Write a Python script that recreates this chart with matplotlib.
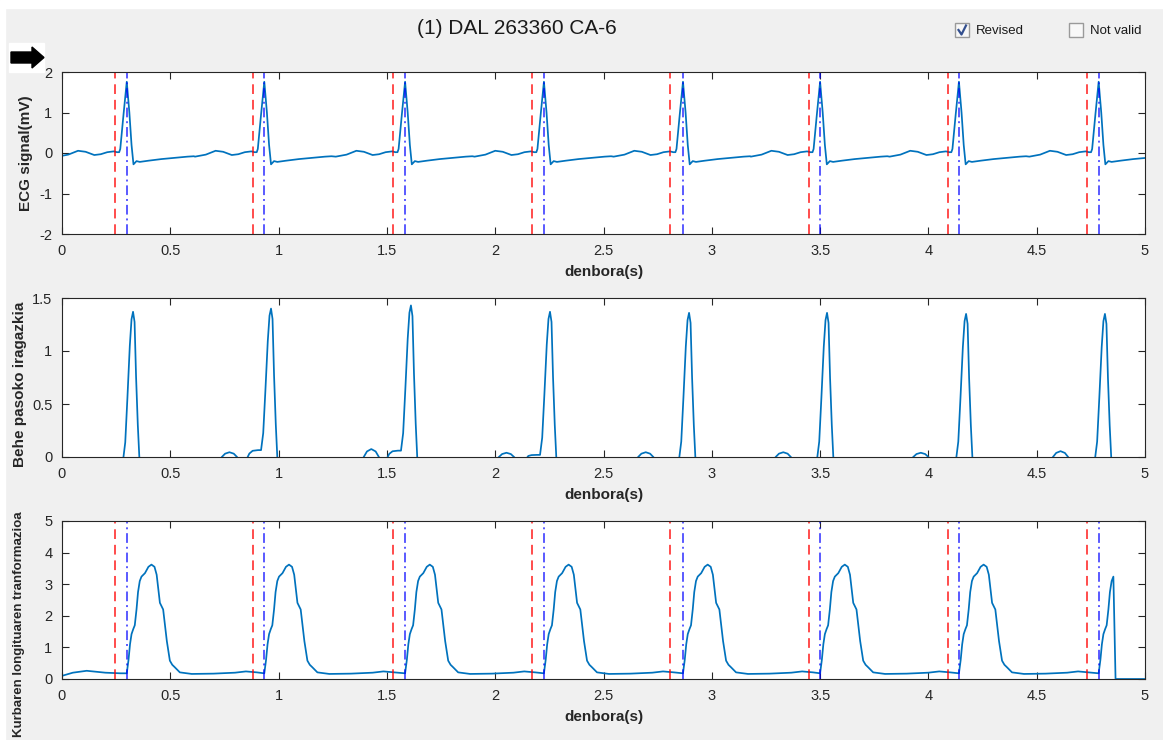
import numpy as np
import matplotlib
matplotlib.use("Agg")
import matplotlib.pyplot as plt
from matplotlib.patches import Rectangle, Polygon
from matplotlib.lines import Line2D
from matplotlib.ticker import FormatStrFormatter

plt.rcParams['font.family'] = ['Liberation Sans', 'DejaVu Sans']

# detekzio puntuak (gorria: hasiera, urdina: R gailurra)
onset_times = [0.245, 0.883, 1.530, 2.170, 2.807, 3.449, 4.089, 4.734]
r_times = [0.299, 0.934, 1.584, 2.225, 2.867, 3.500, 4.141, 4.786]

# EKG taupada baten puntuak, R gailurrarekiko
ecg_offsets = [-0.32, -0.27, -0.225, -0.19, -0.15, -0.12, -0.09, -0.06, -0.045, -0.035, -0.03,
               -0.015, 0.0, 0.012, 0.022, 0.031, 0.045, 0.06, 0.10, 0.16, 0.22, 0.28, 0.31]
ecg_values = [-0.09, -0.04, 0.055, 0.03, -0.05, -0.03, 0.02, 0.04, 0.02, 0.02, 0.10,
              0.95, 1.76, 1.0, 0.2, -0.28, -0.20, -0.22, -0.19, -0.15, -0.12, -0.09, -0.08]

# behe pasoko iragazkiaren gailurrak
lpf_peak_times = [0.328, 0.965, 1.611, 2.253, 2.895, 3.532, 4.174, 4.815]
lpf_peak_heights = [1.37, 1.40, 1.43, 1.37, 1.36, 1.36, 1.35, 1.35]
lpf_shoulders = [-0.03, 0.065, 0.06, 0.02, -0.02, -0.02, -0.02, -0.02]
lpf_lobe_offsets = [-0.046, -0.036, -0.026, -0.015, -0.007, 0.0, 0.007, 0.014, 0.022, 0.029, 0.036]
lpf_lobe_fracs = [0.0, 0.12, 0.42, 0.77, 0.95, 1.0, 0.93, 0.55, 0.22, 0.0, -0.08]
lpf_bump_times = [0.773, 1.428, 2.052, 2.695, 3.33, 3.965, 4.61]
lpf_bump_heights = [0.045, 0.075, 0.04, 0.045, 0.045, 0.04, 0.055]
bump_offsets = [-0.045, -0.035, -0.02, 0.0, 0.02, 0.035, 0.045]
bump_fracs = [-0.6, 0.0, 0.7, 1.0, 0.7, 0.0, -0.6]

# kurbaren luzeraren transformazioa, taupada bakoitzeko
clt_offsets = [0.0, 0.008, 0.015, 0.022, 0.03, 0.037, 0.045, 0.052, 0.06, 0.068, 0.084, 0.10,
               0.114, 0.128, 0.138, 0.153, 0.168, 0.185, 0.199, 0.21, 0.222, 0.245, 0.30, 0.40,
               0.50, 0.55, 0.60]
clt_values = [0.18, 0.6, 1.1, 1.42, 1.58, 1.7, 2.2, 2.75, 3.1, 3.24, 3.35, 3.55,
              3.62, 3.55, 3.3, 2.41, 2.2, 1.2, 0.58, 0.45, 0.37, 0.21, 0.16, 0.17,
              0.2, 0.24, 0.21]
clt_start_t = [0.0, 0.05, 0.114, 0.2, 0.27]
clt_start_v = [0.1, 0.2, 0.26, 0.2, 0.18]
clt_last_cut = 0.076

# EKG seinalea
ecg_t, ecg_v = [], []
for r in r_times:
    for o, v in zip(ecg_offsets, ecg_values):
        ecg_t.append(r + o)
        ecg_v.append(v)

# iragazkia
pts = [(0.0, -0.05), (5.0, -0.05)]
for p, h, s in zip(lpf_peak_times, lpf_peak_heights, lpf_shoulders):
    pts += [(p - 0.115, -0.03), (p - 0.10, 0.5 * s), (p - 0.085, 0.9 * s), (p - 0.06, s)]
    for o, f in zip(lpf_lobe_offsets, lpf_lobe_fracs):
        if o < 0:
            pts.append((p + o, s + f * (h - s)))
        else:
            pts.append((p + o, f * h))
for c, h in zip(lpf_bump_times, lpf_bump_heights):
    for o, f in zip(bump_offsets, bump_fracs):
        pts.append((c + o, f * h))
pts.sort()
lpf_t = [a for a, b in pts]
lpf_v = [b for a, b in pts]

# CLT
clt_t = list(clt_start_t)
clt_v = list(clt_start_v)
for i, r in enumerate(r_times):
    last = i == len(r_times) - 1
    for o, v in zip(clt_offsets, clt_values):
        if last and o > clt_last_cut:
            break
        clt_t.append(r + o)
        clt_v.append(v)
clt_t += [r_times[-1] + clt_last_cut + 0.002, 5.0]
clt_v += [0.0, 0.0]

W, H = 1163, 740
fx = lambda x: x / W
fy = lambda y: 1 - y / H

fig = plt.figure(figsize=(W / 100, H / 100), dpi=100, facecolor='#f0f0f0')
fig.add_artist(Rectangle((0, fy(8)), 1, 8 / H, transform=fig.transFigure, color='white', zorder=0))
fig.add_artist(Rectangle((0, 0), fx(5), 1, transform=fig.transFigure, color='white', zorder=0))

line_c = '#0072BD'
dark = '#262626'
left, width = fx(62), 1083 / W
rects = [(72, 234), (298, 457), (521, 679)]
axes = [fig.add_axes([left, fy(b), width, (b - t) / H]) for t, b in rects]

ylabels = ['ECG signal(mV)', 'Behe pasoko iragazkia', 'Kurbaren longituaren tranformazioa']
ylabel_sizes = [11, 11, 9.5]
ylims = [(-2, 2), (0, 1.5), (0, 5)]
yticks = [[-2, -1, 0, 1, 2], [0, 0.5, 1, 1.5], [0, 1, 2, 3, 4, 5]]
label_x = [33, 27, 25]
label_y = [0.5, 0.46, 0.35]

axes[0].plot(ecg_t, ecg_v, color=line_c, lw=1.25)
axes[1].plot(lpf_t, lpf_v, color=line_c, lw=1.25)
axes[2].plot(clt_t, clt_v, color=line_c, lw=1.25)

for k in (0, 2):
    ax = axes[k]
    lo, hi = ylims[k]
    for t in onset_times:
        ax.plot([t, t], [lo, hi], color='red', ls=(0, (5, 3)), lw=1.4, alpha=0.7)
    for t in r_times:
        ax.plot([t, t], [lo, hi], color='blue', ls=(0, (5, 2, 1, 2)), lw=1.4, alpha=0.65)

for i, ax in enumerate(axes):
    ax.set_xlim(0, 5)
    ax.set_ylim(*ylims[i])
    ax.set_xticks(np.arange(0, 5.01, 0.5))
    ax.set_yticks(yticks[i])
    ax.xaxis.set_major_formatter(FormatStrFormatter('%g'))
    ax.yaxis.set_major_formatter(FormatStrFormatter('%g'))
    ax.tick_params(direction='in', top=True, right=True, length=5, width=0.8,
                   colors=dark, labelsize=10.5, pad=7)
    for sp in ax.spines.values():
        sp.set_color(dark)
        sp.set_linewidth(0.8)
    ax.set_xlabel('denbora(s)', fontsize=11, fontweight='bold', color=dark, labelpad=5)
    ax.set_ylabel(ylabels[i], fontsize=ylabel_sizes[i], fontweight='bold', color=dark)
    ax.yaxis.set_label_coords((label_x[i] - 62) / 1083, label_y[i])

fig.text(fx(517), fy(29), '(1) DAL 263360 CA-6', fontsize=15, ha='center', va='center', color='#1a1a1a')

# kontrol-laukiak
for bx, txt in [(955, 'Revised'), (1069, 'Not valid')]:
    fig.add_artist(Rectangle((fx(bx), fy(37)), 14 / W, 14 / H, transform=fig.transFigure,
                             facecolor='#f8f8f8', edgecolor='#9a9a9a', lw=1.0))
    fig.text(fx(bx + 21), fy(30.5), txt, fontsize=9.5, ha='left', va='center', color='#1a1a1a')
fig.add_artist(Line2D([fx(958.5), fx(961.5), fx(966)], [fy(30), fy(34.5), fy(25.5)],
                      transform=fig.transFigure, color='#34508f', lw=1.6))

# gezia
fig.add_artist(Rectangle((fx(9), fy(72)), 35 / W, 29 / H, transform=fig.transFigure, color='white'))
arrow_px = [(11, 52), (32, 52), (32, 47), (44, 57.5), (32, 68), (32, 63), (11, 63)]
fig.add_artist(Polygon([(fx(a), fy(b)) for a, b in arrow_px], closed=True,
                       transform=fig.transFigure, color='black'))

plt.savefig('out.png', dpi=100, facecolor=fig.get_facecolor())
